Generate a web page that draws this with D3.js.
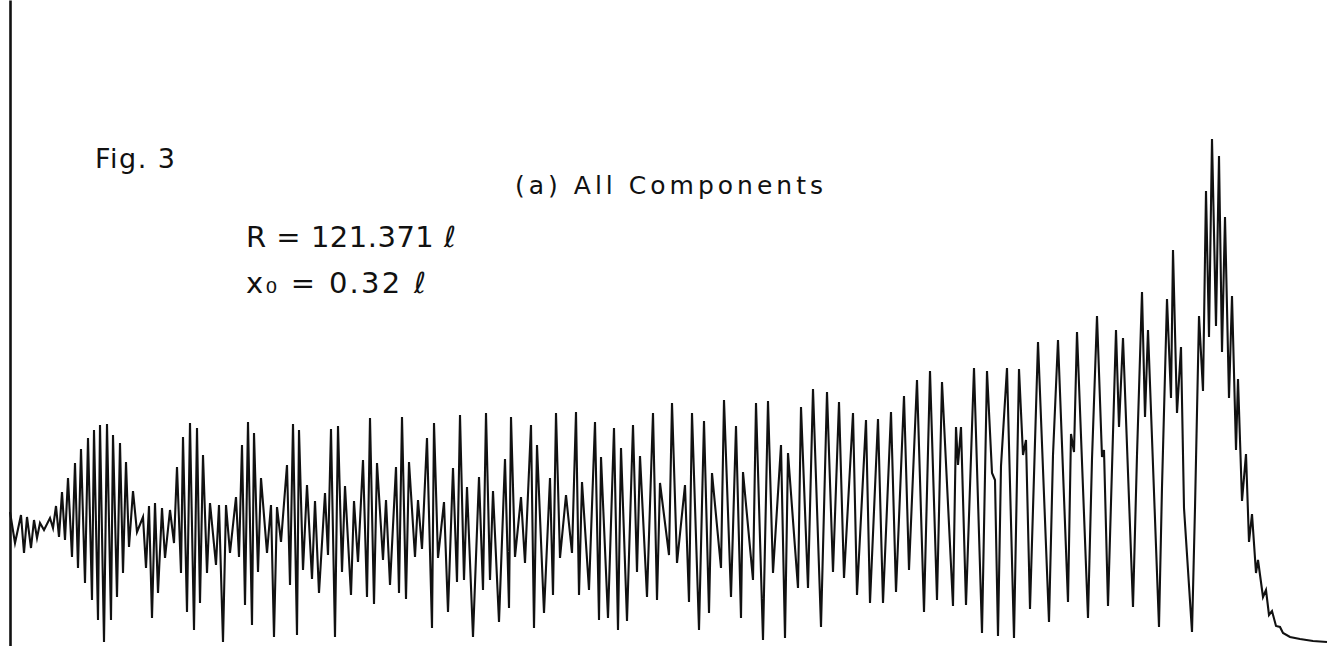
<!DOCTYPE html>
<html>
<head>
<meta charset="utf-8">
<script src="https://cdn.jsdelivr.net/npm/d3@7"></script>
<style>
  html, body { margin: 0; padding: 0; background: #fff; }
  svg { display: block; }
  .label { font-family: "DejaVu Sans", sans-serif; fill: #111; }
</style>
</head>
<body>
<svg id="chart" width="1333" height="646"></svg>
<script>
// Sample positions (arbitrary time units) of the recorded turning points
const sampleT = [
  0,5,11,14,17,21,24,27,30,34,40,43,46,49,52,55,58,62,65,68,71,75,78,82,84,88,90,94,97,101,
  103,107,110,113,116,119,123,127,133,136,139,142,145,148,152,155,160,164,167,171,173,177,180,184,187,190,193,197,200,206,
  209,213,216,220,226,229,232,235,238,242,244,248,251,257,261,264,267,271,277,280,283,287,289,293,297,302,305,309,315,318,
  321,325,328,332,335,341,344,348,353,357,360,364,367,373,376,380,386,389,392,396,399,405,408,412,417,422,424,428,434,438,
  443,447,450,454,457,463,469,473,476,480,483,489,495,499,501,505,511,515,521,524,527,534,540,543,546,550,556,562,566,569,
  572,579,585,589,591,598,604,608,611,617,623,627,630,637,643,647,650,659,662,667,675,679,682,689,694,699,702,711,714,721,
  726,731,733,743,746,753,758,763,771,775,778,788,791,798,803,811,817,823,829,834,843,847,856,860,868,873,881,886,894,899,
  907,914,920,927,932,943,946,948,951,956,964,972,977,982,985,988,991,997,1004,1009,1013,1016,1020,1028,1039,1043,1048,1058,1061,1064,
  1067,1078,1082,1087,1092,1094,1098,1106,1109,1113,1123,1127,1132,1135,1138,1149,1152,1157,1161,1163,1167,1171,1174,1182,1185,1189,1193,1196,1199,1202,
  1206,1209,1212,1215,1219,1222,1226,1228,1232,1236,1239,1242,1246,1248,1253,1256,1259,1262,1266,1270,1273,1280,1290,1303,1317
];

// Signal amplitude at each of those positions
const signal = [
  0.08,-0.23,0.05,-0.33,0.03,-0.28,0.00,-0.18,-0.03,-0.10,0.02,-0.08,0.14,-0.17,0.28,-0.20,0.42,-0.37,0.57,-0.48,0.71,-0.63,0.82,-0.80,0.90,-1.00,0.95,-1.22,0.96,-1.00,
  0.85,-0.77,0.77,-0.53,0.58,-0.27,0.29,-0.12,0.03,-0.48,0.14,-0.98,0.17,-0.73,0.12,-0.38,0.10,-0.23,0.53,-0.53,0.83,-0.92,0.97,-1.10,0.92,-0.83,0.65,-0.53,0.17,-0.45,
  0.15,-1.22,0.15,-0.33,0.23,-0.37,0.75,-0.85,0.98,-1.05,0.87,-0.52,0.42,-0.33,0.15,-1.17,0.13,-0.22,0.55,-0.65,0.96,-1.15,0.90,-0.50,0.35,-0.59,0.19,-0.73,0.27,-0.35,
  0.91,-1.17,0.94,-0.52,0.34,-0.75,0.19,-0.42,0.60,-0.77,1.02,-0.84,0.57,-0.40,0.20,-0.65,0.53,-0.73,1.03,-0.79,0.58,-0.37,0.20,-0.29,0.82,-1.08,0.97,-0.38,0.18,-0.92,
  0.52,-0.62,1.05,-0.60,0.33,-1.17,0.43,-0.70,1.07,-0.60,0.29,-1.02,0.61,-0.88,1.03,-0.37,0.23,-0.43,0.95,-1.08,0.75,-0.93,0.42,-0.75,1.07,-0.38,0.25,-0.33,1.08,-0.75,
  0.38,-0.70,0.98,-1.00,0.63,-0.98,0.92,-1.10,0.72,-1.01,0.95,-0.52,0.64,-0.77,1.07,-0.80,0.37,-0.35,1.17,-0.43,0.35,-0.82,1.07,-1.10,0.99,-0.93,0.47,-0.48,1.20,-0.77,
  0.94,-0.98,0.48,-0.60,1.17,-1.20,1.19,-0.53,0.75,-1.18,0.67,-0.68,1.13,-0.68,1.31,-1.07,1.28,-0.52,1.18,-0.58,1.07,-0.75,1.00,-0.83,1.01,-0.83,1.08,-0.72,1.24,-0.50,
  1.40,-0.92,1.49,-0.80,1.38,-0.86,0.93,0.55,0.93,-0.85,1.52,-1.13,1.49,0.47,0.40,-1.16,0.54,1.52,-1.18,1.51,0.65,0.80,-0.89,1.78,-1.02,0.65,1.80,-0.82,0.86,0.68,
  1.88,-0.98,0.61,2.04,0.63,0.70,-0.86,1.90,0.93,1.82,-0.87,0.65,2.28,1.03,1.90,-1.07,0.33,2.21,1.22,2.70,1.07,1.73,0.12,-1.12,0.12,2.04,1.29,3.29,1.83,3.81,
  1.94,3.64,1.68,3.03,1.22,2.24,0.70,1.41,0.19,0.66,-0.22,0.06,-0.53,-0.40,-0.77,-0.70,-0.95,-0.91,-1.06,-1.07,-1.13,-1.17,-1.19,-1.21,-1.22
];

// Annotation lines
const figureLabel = "Fig. 3";
const panelTitle = "(a)  All Components";
const paramLines = ["R =  121.371 \u2113", "x\u2080 =  0.32 \u2113"];

const width = 1333, height = 646;
const svg = d3.select("#chart");

const x = d3.scaleLinear().domain([0, 1323]).range([10, 1333]);
const y = d3.scaleLinear().domain([-1.26, 5.2]).range([height, 0]);

const points = sampleT.map((t, i) => ({ t, v: signal[i] }));

// Vertical axis: bare line, no ticks
svg.append("g")
  .attr("transform", `translate(${x(0)},0)`)
  .call(d3.axisLeft(y).tickValues([]).tickSizeOuter(0))
  .call(g => g.select(".domain").attr("stroke", "#111").attr("stroke-width", 2.6));

// Recorded trace
const line = d3.line()
  .x(d => x(d.t))
  .y(d => y(d.v))
  .curve(d3.curveLinear);

svg.append("path")
  .datum(points)
  .attr("d", line)
  .attr("fill", "none")
  .attr("stroke", "#111")
  .attr("stroke-width", 2.1)
  .attr("stroke-linejoin", "miter")
  .attr("stroke-miterlimit", 6);

// Labels
const labels = [
  { text: figureLabel, x: 95, y: 168, size: 27, len: 80 },
  { text: panelTitle, x: 515, y: 194, size: 25, len: 308 },
  { text: paramLines[0], x: 246, y: 247, size: 29, len: 210 },
  { text: paramLines[1], x: 246, y: 293, size: 29, len: 180 }
];

svg.selectAll("text.label")
  .data(labels)
  .join("text")
  .attr("class", "label")
  .attr("x", d => d.x)
  .attr("y", d => d.y)
  .attr("font-size", d => d.size)
  .attr("textLength", d => d.len)
  .attr("lengthAdjust", "spacing")
  .text(d => d.text);
</script>
</body>
</html>
